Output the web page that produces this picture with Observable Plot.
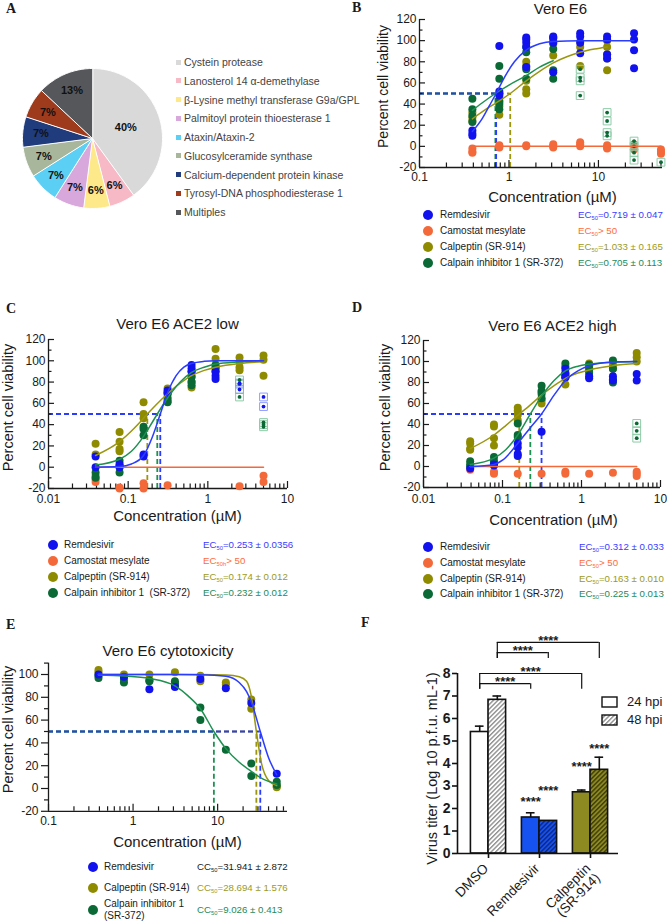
<!DOCTYPE html>
<html><head><meta charset="utf-8">
<script src="https://cdn.jsdelivr.net/npm/d3@7"></script>
<script src="https://cdn.jsdelivr.net/npm/@observablehq/plot@0.6"></script>
<style>
body{margin:0;background:#fff;}
#fig{position:relative;width:667px;height:922px;overflow:hidden;font-family:"Liberation Sans",Arial,Helvetica,sans-serif;color:#1a1a1a;background:#fff;}
.abs{position:absolute;white-space:nowrap;}
.letter{font-family:"Liberation Serif","Times New Roman",serif;font-weight:bold;}
.dot{position:absolute;width:10px;height:10px;border-radius:50%;transform:translate(-50%,-50%);}
sub{font-size:0.6em;vertical-align:-0.25em;line-height:0;}
</style></head><body><div id="fig"></div>
<script>
// ================= DATA =================
// Panel A
const pieCategories = ["Cystein protease","Lanosterol 14 \u03b1-demethylase","\u03b2-Lysine methyl transferase G9a/GPL","Palmitoyl protein thioesterase 1","Ataxin/Ataxin-2","Glucosylceramide synthase","Calcium-dependent protein kinase","Tyrosyl-DNA phosphodiesterase 1","Multiples"];
const pieShares = [40, 6, 6, 7, 7, 7, 7, 7, 13];

// Panel B: Vero E6
const concB = [0.39, 0.78, 1.56, 3.125, 6.25, 12.5, 25, 50];
const remB = [[15,12,10],[95,52,48],[103,101,98,94,75],[104,102,98,70],[107,104,98,88],[104,101,87,83],[107,101,91,74],[]];
const camB = [[-2,-5,-6],[1,0,-1],[1,0],[2,0,-1],[4,2,0],[1,-1,-2],[2,0,-3],[-3,-5,-7]];
const calpB = [[32,27,24],[42,38,30],[80,76,62,54,50],[99,97,86],[99,94,76],[100,94,87,83,72],[],[]];
const calpiB = [[45,35,29,23],[76,64,43,40,35],[94,89,73,64],[103,92,72,64],[],[],[],[]];
const calpiBx = [[],[],[],[],[73,65,62,48],[32,24,13,10],[5,0,-6,-13],[-15]];
const fitBrem = [[0.39,14],[0.5,26],[0.6,38],[0.719,50],[0.9,66],[1.15,80],[1.56,91],[2.2,97],[3.125,99.3],[6.25,100],[25,100]];
const fitBcam = [[0.39,0],[50,0]];
const fitBcalp = [[0.39,26],[0.6,37],[0.78,43],[1.033,50],[1.56,62],[2.2,71],[3.125,79],[4.5,85],[6.25,89],[9,92],[12.5,94]];
const fitBcalpi = [[0.39,34],[0.5,41],[0.705,50],[1,58],[1.56,67],[2.2,75],[3.125,81]];
const ecB = {rem: 0.719, calp: 1.033, calpi: 0.705};

// Panel C: Vero E6 ACE2 low
const concC = [0.039, 0.078, 0.156, 0.3125, 0.625, 1.25, 2.5, 5];
const remC = [[10,0],[3,1,0],[12,10],[72,70],[96,93,90],[90,86,83],[],[]];
const remCx = [[],[],[],[],[],[],[79,73],[66,57]];
const camC = [[-8,-11,-14],[-19,-20],[-15,-20],[-17],[],[],[-18],[-8,-14]];
const calpC = [[22,12],[33,24,17,15],[61,50,46],[74,70,66,62],[85,80,75],[111,102,94],[103,99,94,91],[105,101,86]];
const calpiC = [[-5,-10],[6,1,-5],[38,36,30],[69,64,61],[90,85,80,77],[96,93,90],[],[]];
const calpiCx = [[],[],[],[],[],[],[82,78,66],[42,40,38]];
const fitCrem = [[0.039,0],[0.078,0.6],[0.11,3],[0.156,11],[0.2,28],[0.253,50],[0.3125,70],[0.4,86],[0.5,94],[0.625,97.5],[0.9,99.5],[1.25,100],[5,100]];
const fitCcam = [[0.039,0],[5,0]];
const fitCcalp = [[0.039,11],[0.078,24],[0.11,34],[0.156,46],[0.174,50],[0.22,58],[0.3125,69],[0.45,79],[0.625,86],[0.9,91],[1.25,94],[2.5,97.5],[5,99]];
const fitCcalpi = [[0.039,2],[0.078,7.5],[0.11,15],[0.156,29],[0.2,42],[0.232,50],[0.3125,65],[0.45,80],[0.625,89],[0.9,94],[1.25,97],[2.5,99],[5,100]];
const ecC = {rem: 0.253, calp: 0.174, calpi: 0.232};

// Panel D: Vero E6 ACE2 high
const concD = [0.039, 0.078, 0.156, 0.3125, 0.625, 1.25, 2.5, 5];
const remD = [[-2],[1,2],[22,18,12,10],[33],[93,88,85],[86,84],[86,82],[88,82]];
const camD = [[-3],[-5,-7],[-7],[-7],[-5,-7],[-7],[-6],[-5,-7,-9]];
const calpD = [[24,22,17,16],[40,38,27,20],[56,53,49,44],[71,63,60],[90,85,78],[98,95,91],[99,96,93],[108,104,100]];
const calpiD = [[5,2,0],[9,5,3],[41,30,28],[77,72,69,65],[98,95,88,85],[97,93,89],[101,93,83,80],[]];
const calpiDx = [[],[],[],[],[],[],[],[41,34,27]];
const fitDrem = [[0.039,0],[0.078,2],[0.1,6],[0.156,22],[0.22,36],[0.312,50],[0.45,68],[0.625,82],[0.9,91],[1.25,96],[2.5,99.5],[5,100]];
const fitDcam = [[0.039,0],[5,0]];
const fitDcalp = [[0.039,17],[0.078,30],[0.11,39],[0.163,50],[0.22,58],[0.3125,68],[0.45,77],[0.625,84],[0.9,89],[1.25,92],[2.5,96],[5,98]];
const fitDcalpi = [[0.039,2],[0.078,8],[0.11,16],[0.156,30],[0.225,50],[0.3125,67],[0.45,82],[0.625,91],[0.9,95.5],[1.25,97.5],[2.5,99.3],[5,100]];
const ecD = {rem: 0.312, calp: 0.163, calpi: 0.225};

// Panel E: Vero E6 cytotoxicity
const concE = [0.39, 0.78, 1.56, 3.125, 6.25, 12.5, 25, 50];
const remE = [[100],[98],[87],[89],[96],[88],[75],[13]];
const calpE = [[104,102],[100],[100],[102],[99,94],[93,91],[78,70],[2,1]];
const calpiE = [[99,97],[96,93],[95,94],[94,92,90],[71,60],[34],[22,11],[6,3]];
const fitErem = [[0.39,100],[3.125,100],[6.25,99.8],[12.5,98.5],[18,93],[22,85],[25,76],[31.941,50],[40,27],[50,12]];
const fitEcalp = [[0.39,100],[6.25,100],[12.5,99.5],[18,98],[22,94],[25,81],[28.694,50],[33,22],[40,7],[50,2.5]];
const fitEcalpi = [[0.39,99.5],[0.78,98.7],[1.56,96.5],[3.125,90],[4.5,81],[6.25,70],[9.026,50],[12.5,35],[18,23],[25,15],[35,8],[50,4]];
const ecE = {rem: 31.941, calp: 28.694, calpi: 9.026};

const halfLevel = 50;
const yTicksViab = [-20, 0, 20, 40, 60, 80, 100, 120];
const yMinorViab = [-10, 10, 30, 50, 70, 90, 110];
const yTicksTox = [-20, 0, 20, 40, 60, 80, 100];
const yMinorTox = [-10, 10, 30, 50, 70, 90, 110];

// Panel F: virus titer
const groupsF = ["DMSO", "Remdesivir", "Calpeptin\n(SR-914)"];
const hpiF = ["24 hpi", "48 hpi"];
const titer24 = [5.4, 1.6, 2.72];
const titer48 = [6.83, 1.45, 3.72];
const err24 = [0.26, 0.21, 0.1];
const err48 = [0.17, 0, 0.56];
const starLevel24 = [null, 2.44, 4.0];
const starLevel48 = [null, 2.93, 4.8];
const bracketsF = [
  {g1: 0, g2: 1, s: 0, top: 7.55, leg: 7.3},
  {g1: 0, g2: 2, s: 0, top: 8.0, leg: 7.3},
  {g1: 0, g2: 1, s: 1, top: 8.93, leg: 8.67},
  {g1: 0, g2: 2, s: 1, top: 9.38, leg: 8.67}
];
const yTicksF = [0, 1, 2, 3, 4, 5, 6, 7, 8];

// ================= STYLES =================
const FONT = '"Liberation Sans", Arial, Helvetica, sans-serif';
const AX = "#1a1a1a";
const pieColors = ["#d9d9d9","#f7b9c5","#fde88a","#d8a8dc","#5ccff5","#a8b79c","#203c7c","#9e3b1d","#55575b"];
const dotColors = {rem: "#1212ee", cam: "#f4693a", calp: "#8f8b00", calpi: "#0a6934"};
const lineColors = {rem: "#2a3cff", cam: "#f4693a", calp: "#9a9610", calpi: "#1e9150"};
const boxColors = {rem: "#8f9dff", calpi: "#8fcba8"};
const ecColors = {rem: "#3b3bff", cam: "#ff6b3d", calp: "#9c9a22", calpi: "#238a5c"};
const plotStyle = {fontFamily: FONT, fontSize: "12px", color: AX, background: "transparent", overflow: "visible"};

const fig = document.getElementById("fig");
function place(el, left, top) { el.style.position = "absolute"; el.style.left = left + "px"; el.style.top = top + "px"; fig.appendChild(el); return el; }
function addText(x, y, html, o = {}) {
  const d = document.createElement("div");
  d.className = "abs" + (o.cls ? " " + o.cls : "");
  d.innerHTML = html;
  d.style.left = x + "px"; d.style.top = y + "px";
  d.style.fontSize = (o.size || 10) + "px";
  d.style.lineHeight = o.lh || "1.2";
  if (o.color) d.style.color = o.color;
  d.style.transform = "translateY(-50%)";
  fig.appendChild(d); return d;
}
function addDot(x, y, color) { const d = document.createElement("div"); d.className = "dot"; d.style.left = x + "px"; d.style.top = y + "px"; d.style.background = color; fig.appendChild(d); }

const reps = (conc, vals, drug) => conc.flatMap((x, i) => vals[i].map(y => ({drug, x, y})));
const fit = (arr, drug) => arr.map(([x, y]) => ({drug, x, y}));
function minorLog(lo, hi) {
  const out = [];
  for (let e = Math.floor(Math.log10(lo)); e <= Math.ceil(Math.log10(hi)); e++)
    for (let k = 2; k <= 9; k++) { const v = +(k * Math.pow(10, e)).toPrecision(3); if (v > lo * 1.0001 && v < hi * 0.9999) out.push(v); }
  return out;
}
const fmt = d3.format("~g");

// ================= PANEL A =================
const pieArcs = d3.pie().sort(null).value(d => d)(pieShares);
const piePath = pieArcs.flatMap((a, k) => {
  const n = Math.ceil((a.endAngle - a.startAngle) / 0.02);
  const pts = [{k, x: 0, y: 0}];
  for (let j = 0; j <= n; j++) { const t = a.startAngle + (a.endAngle - a.startAngle) * j / n; pts.push({k, x: Math.sin(t), y: Math.cos(t)}); }
  return pts;
});
const midA = a => (a.startAngle + a.endAngle) / 2;
const labR = a => (a.data >= 30 ? 0.5 : 0.74);
place(Plot.plot({
  width: 180, height: 156, margin: 0,
  x: {domain: [-90 / 70, 90 / 70], axis: null}, y: {domain: [-78 / 70, 78 / 70], axis: null},
  color: {type: "identity"}, style: plotStyle,
  marks: [
    Plot.line(piePath, {x: "x", y: "y", z: "k", fill: d => pieColors[d.k], stroke: "#fff", strokeWidth: 1, curve: "linear-closed"}),
    Plot.text(pieArcs, {x: a => labR(a) * Math.sin(midA(a)), y: a => labR(a) * Math.cos(midA(a)), text: a => a.data + "%", fontWeight: "bold", fontSize: 11, fill: "#111"})
  ]
}), 2, 60);
pieCategories.forEach((c, i) => {
  const y = 62 + i * 18.75;
  const sq = document.createElement("div");
  sq.style.cssText = `position:absolute;left:176px;top:${y - 2.5}px;width:5px;height:5px;background:${pieColors[i]}`;
  fig.appendChild(sq);
  addText(184, y, c, {size: 10.5, color: "#444"});
});

// ================= DOSE-RESPONSE PANELS =================
function dosePanel(c) {
  const [mt, mr, mb, ml] = c.margin;
  const fw = c.width - ml - mr, fh = c.height - mt - mb;
  const ecs = ["calp", "calpi", "rem"].filter(k => c.ec[k] != null).map(k => ({drug: k, ec: c.ec[k]}));
  const dash = {strokeWidth: 1.8, strokeDasharray: "5,3", stroke: d => lineColors[d.drug]};
  const yt = c.yOut
    ? [Plot.tickY(c.yMajor, {y: d => d, insetLeft: -7, insetRight: fw, stroke: AX, strokeWidth: 1.2}),
       Plot.tickY(c.yMinor.filter(v => v <= c.yDomain[1]), {y: d => d, insetLeft: -4, insetRight: fw, stroke: AX, strokeWidth: 1.2})]
    : [Plot.tickY(c.yMajor, {y: d => d, insetRight: fw - 6, stroke: AX, strokeWidth: 1.2}),
       Plot.tickY(c.yMinor.filter(v => v <= c.yDomain[1]), {y: d => d, insetRight: fw - 3.5, stroke: AX, strokeWidth: 1.2})];
  const svg = Plot.plot({
    width: c.width, height: c.height, marginTop: mt, marginRight: mr, marginBottom: mb, marginLeft: ml,
    x: {type: "log", domain: c.xDomain, axis: null},
    y: {domain: c.yDomain, axis: null},
    color: {type: "identity"}, style: plotStyle,
    marks: [
      Plot.ruleY(ecs, {y: halfLevel, x1: c.xDomain[0], x2: "ec", ...dash}),
      Plot.ruleX(ecs, {x: "ec", y1: c.yDomain[0], y2: halfLevel, ...dash}),
      Plot.ruleY([c.yDomain[0]], {stroke: AX, strokeWidth: 1.3}),
      Plot.ruleX([c.xDomain[0]], {stroke: AX, strokeWidth: 1.3}),
      Plot.tickX(c.xMajor, {x: d => d, insetTop: fh - 7, stroke: AX, strokeWidth: 1.2}),
      Plot.tickX(minorLog(c.xDomain[0], c.xDomain[1]), {x: d => d, insetTop: fh - 4.5, stroke: AX, strokeWidth: 1.2}),
      ...yt,
      Plot.text(c.xMajor, {x: d => d, frameAnchor: "bottom", lineAnchor: "top", dy: c.xLabelDy || 5, text: d => fmt(d), fontSize: 12}),
      Plot.text(c.yMajor, {y: d => d, frameAnchor: "left", lineAnchor: "middle", dx: c.yLabelDx, textAnchor: "end", text: d => String(d), fontSize: 12}),
      Plot.dot(c.points, {x: "x", y: "y", r: 4, fill: d => dotColors[d.drug]}),
      Plot.dot(c.excluded, {x: "x", y: "y", symbol: "square", r: 4.4, fill: "none", stroke: d => boxColors[d.drug], strokeWidth: 1}),
      Plot.dot(c.excluded, {x: "x", y: "y", r: 1.9, fill: d => dotColors[d.drug]}),
      Plot.line(c.fits, {x: "x", y: "y", z: "drug", stroke: d => lineColors[d.drug], strokeWidth: 1.5, curve: "monotone-x"}),
      Plot.text([c.title], {frameAnchor: "top", lineAnchor: "middle", textAnchor: "middle", dx: c.titleOff[0], dy: c.titleOff[1], text: d => d, fontSize: 15}),
      Plot.text(["Concentration (\u00b5M)"], {frameAnchor: "bottom", lineAnchor: "middle", textAnchor: "middle", dx: c.xTitleOff[0], dy: c.xTitleOff[1], text: d => d, fontSize: 15}),
      Plot.text(["Percent cell viability"], {frameAnchor: "left", lineAnchor: "middle", textAnchor: "middle", rotate: -90, dx: c.yTitleOff[0], dy: c.yTitleOff[1], text: d => d, fontSize: c.yTitleSize || 14.5})
    ]
  });
  place(svg, c.left, c.top);
}

dosePanel({
  left: 340, top: 0, width: 327, height: 205, margin: [19, 5, 38, 79],
  xDomain: [0.1, 52], yDomain: [-20, 120], xMajor: [0.1, 1, 10], yMajor: yTicksViab, yMinor: yMinorViab, yOut: false, yLabelDx: -3, xLabelDy: 5,
  points: [...reps(concB, camB, "cam"), ...reps(concB, calpB, "calp"), ...reps(concB, calpiB, "calpi"), ...reps(concB, remB, "rem")],
  excluded: reps(concB, calpiBx, "calpi"),
  fits: [...fit(fitBcam, "cam"), ...fit(fitBcalp, "calp"), ...fit(fitBcalpi, "calpi"), ...fit(fitBrem, "rem")],
  ec: ecB, title: "Vero E6", titleOff: [19.5, -10.5], xTitleOff: [11.5, 30], yTitleOff: [-36, -7], yTitleSize: 14
});
dosePanel({
  left: 0, top: 300, width: 340, height: 225, margin: [39, 53, 37, 48],
  xDomain: [0.01, 10], yDomain: [-20, 120], xMajor: [0.01, 0.1, 1, 10], yMajor: yTicksViab, yMinor: yMinorViab, yOut: false, yLabelDx: -3, xLabelDy: 6,
  points: [...reps(concC, camC, "cam"), ...reps(concC, calpC, "calp"), ...reps(concC, calpiC, "calpi"), ...reps(concC, remC, "rem")],
  excluded: [...reps(concC, calpiCx, "calpi"), ...reps(concC, remCx, "rem")],
  fits: [...fit(fitCcam, "cam"), ...fit(fitCcalp, "calp"), ...fit(fitCcalpi, "calpi"), ...fit(fitCrem, "rem")],
  ec: ecC, title: "Vero E6 ACE2 low", titleOff: [9.5, -15], xTitleOff: [9.5, 28], yTitleOff: [-40, -6.5]
});
dosePanel({
  left: 330, top: 300, width: 337, height: 225, margin: [40, 7, 38, 93],
  xDomain: [0.01, 10], yDomain: [-20, 120], xMajor: [0.01, 0.1, 1, 10], yMajor: yTicksViab, yMinor: yMinorViab, yOut: false, yLabelDx: -3, xLabelDy: 6.5,
  points: [...reps(concD, camD, "cam"), ...reps(concD, calpD, "calp"), ...reps(concD, calpiD, "calpi"), ...reps(concD, remD, "rem")],
  excluded: reps(concD, calpiDx, "calpi"),
  fits: [...fit(fitDcam, "cam"), ...fit(fitDcalp, "calp"), ...fit(fitDcalpi, "calpi"), ...fit(fitDrem, "rem")],
  ec: ecD, title: "Vero E6 ACE2 high", titleOff: [10.5, -14], xTitleOff: [11.5, 33], yTitleOff: [-38, -6.5]
});
dosePanel({
  left: 0, top: 630, width: 340, height: 225, margin: [32.6, 53, 44.2, 48],
  xDomain: [0.1, 67], yDomain: [-20, 110], xMajor: [0.1, 1, 10], yMajor: yTicksTox, yMinor: yMinorTox, yOut: true, yLabelDx: -10, xLabelDy: 5,
  points: [...reps(concE, calpE, "calp"), ...reps(concE, calpiE, "calpi"), ...reps(concE, remE, "rem")],
  excluded: [],
  fits: [...fit(fitEcalp, "calp"), ...fit(fitEcalpi, "calpi"), ...fit(fitErem, "rem")],
  ec: ecE, title: "Vero E6 cytotoxicity", titleOff: [0, -11.6], xTitleOff: [9.5, 31], yTitleOff: [-40, -7.7]
});

// ---- dose-response legends ----
const legNames = {rem: "Remdesivir", cam: "Camostat mesylate", calp: "Calpeptin (SR-914)", calpi: "Calpain inhibitor 1 (SR-372)"};
function legend(keys, ys, dotX, textX, ecX, ecHtml, names, colorsFor) {
  keys.forEach((k, i) => {
    addDot(dotX, ys[i], dotColors[k]);
    addText(textX, ys[i], names[k] || legNames[k], {size: 10});
    addText(ecX, ys[i], ecHtml[i], {size: 9.7, color: colorsFor[i]});
  });
}
const K4 = ["rem", "cam", "calp", "calpi"];
legend(K4, [215, 231, 247, 263], 428, 440, 578,
  ["EC<sub>50</sub>=0.719 \u00b1 0.047", "EC<sub>50</sub>&gt; 50", "EC<sub>50</sub>=1.033 \u00b1 0.165", "EC<sub>50</sub>=0.705 \u00b1 0.113"], {}, K4.map(k => ecColors[k]));
legend(K4, [545, 561, 577, 593], 53, 64, 203,
  ["EC<sub>50</sub>=0.253 \u00b1 0.0356", "EC<sub>50h</sub>&gt; 50", "EC<sub>50</sub>=0.174 \u00b1 0.012", "EC<sub>50</sub>=0.232 \u00b1 0.012"], {calpi: "Calpain inhibitor 1&nbsp; (SR-372)"}, K4.map(k => ecColors[k]));
legend(K4, [547, 563, 579, 594], 428, 440, 579,
  ["EC<sub>50</sub>=0.312 \u00b1 0.033", "EC<sub>50</sub>&gt; 50", "EC<sub>50</sub>=0.163 \u00b1 0.010", "EC<sub>50</sub>=0.225 \u00b1 0.013"], {}, K4.map(k => ecColors[k]));
legend(["rem", "calp", "calpi"], [867, 888, 910], 93, 104, 197,
  ["CC<sub>50</sub>=31.941 \u00b1 2.872", "CC<sub>50</sub>=28.694 \u00b1 1.576", "CC<sub>50</sub>=9.026 \u00b1 0.413"], {calpi: "Calpain inhibitor 1<br>(SR-372)"}, [AX, ecColors.calp, ecColors.calpi]);

// ================= PANEL F =================
const barW = 0.345, capHalf = 0.085;
const xDomainF = [-0.608, 2.549];
const barFill = {"0-0": "#ffffff", "0-1": "url(#hatchGray)", "1-0": "#1652f0", "1-1": "url(#hatchBlue)", "2-0": "#8d8a22", "2-1": "url(#hatchOlive)"};
const cx = (gi, si) => gi + (si - 0.5) * barW;
const barsF = groupsF.flatMap((g, gi) => [titer24, titer48].map((arr, si) => ({
  gi, si, key: gi + "-" + si, v: arr[gi], err: [err24, err48][si][gi], star: [starLevel24, starLevel48][si][gi], c: cx(gi, si)
})));
const legsF = bracketsF.flatMap(b => [{x: cx(b.g1, b.s), y1: b.top, y2: b.leg}, {x: cx(b.g2, b.s), y1: b.top, y2: b.leg}]);
const fwF = 307 - 97 - 49, fhF = 302 - 8 - 69;
const svgF = Plot.plot({
  width: 307, height: 302, marginTop: 8, marginRight: 49, marginBottom: 69, marginLeft: 97,
  x: {domain: xDomainF, axis: null}, y: {domain: [0, 10], axis: null},
  color: {type: "identity"}, style: plotStyle,
  marks: [
    Plot.rect(barsF, {x1: d => d.c - barW / 2, x2: d => d.c + barW / 2, y1: 0, y2: "v", fill: d => barFill[d.key], stroke: "#111", strokeWidth: 1.6}),
    Plot.ruleX(barsF.filter(d => d.err > 0), {x: "c", y1: "v", y2: d => d.v + d.err, stroke: "#111", strokeWidth: 1.6}),
    Plot.ruleY(barsF.filter(d => d.err > 0), {y: d => d.v + d.err, x1: d => d.c - capHalf, x2: d => d.c + capHalf, stroke: "#111", strokeWidth: 1.6}),
    Plot.text(barsF.filter(d => d.star != null), {x: "c", y: "star", dy: 3, text: () => "****", fontSize: 13, fontWeight: "bold"}),
    Plot.ruleY(bracketsF, {y: "top", x1: b => cx(b.g1, b.s), x2: b => cx(b.g2, b.s), stroke: "#111", strokeWidth: 1.2}),
    Plot.ruleX(legsF, {x: "x", y1: "y1", y2: "y2", stroke: "#111", strokeWidth: 1.2}),
    Plot.text(bracketsF, {x: b => (cx(b.g1, b.s) + cx(b.g2, b.s)) / 2, y: "top", dy: -2, text: () => "****", fontSize: 13, fontWeight: "bold"}),
    Plot.ruleY([0], {stroke: "#111", strokeWidth: 1.6}),
    Plot.ruleX([xDomainF[0]], {y1: yTicksF[0], y2: yTicksF[yTicksF.length - 1], stroke: "#111", strokeWidth: 1.6}),
    Plot.tickY(yTicksF, {y: d => d, insetLeft: -5, insetRight: fwF, stroke: "#111", strokeWidth: 1.6}),
    Plot.text(yTicksF, {y: d => d, frameAnchor: "left", lineAnchor: "middle", dx: -7, textAnchor: "end", text: d => String(d), fontSize: 14, fontWeight: "bold"}),
    Plot.tickX(groupsF.map((g, i) => i), {x: d => d, insetTop: fhF, insetBottom: -5, stroke: "#111", strokeWidth: 1.6}),
    Plot.text(groupsF, {x: (d, i) => i, frameAnchor: "bottom", dx: -6, dy: 9, rotate: -45, textAnchor: "end", lineAnchor: "top", text: d => d, fontSize: 13.5}),
    Plot.text(["Virus titer (Log 10 p.f.u. mL-1)"], {frameAnchor: "left", lineAnchor: "middle", textAnchor: "middle", rotate: -90, dx: -25, dy: 27.5, text: d => d, fontSize: 14.5})
  ]
});
const defs = d3.select(svgF).insert("defs", ":first-child");
function hatch(id, bg, fg) {
  const p = defs.append("pattern").attr("id", id).attr("patternUnits", "userSpaceOnUse").attr("width", 3.2).attr("height", 3.2).attr("patternTransform", "rotate(45)");
  p.append("rect").attr("width", 3.2).attr("height", 3.2).attr("fill", bg);
  p.append("rect").attr("width", 1.4).attr("height", 3.2).attr("fill", fg);
}
hatch("hatchGray", "#ffffff", "#8f8f8f");
hatch("hatchBlue", "#1652f0", "#0c2680");
hatch("hatchOlive", "#8d8a22", "#3f3d08");
place(svgF, 360, 620);

// legend F
[["#ffffff", 702], ["url(#hatchGray)", 720]].forEach(([f, y], i) => {
  const s = document.createElementNS("http://www.w3.org/2000/svg", "svg");
  s.setAttribute("width", 17); s.setAttribute("height", 12);
  s.innerHTML = `<rect x="1" y="1" width="15" height="10" fill="${f}" stroke="#111" stroke-width="1.4"/>`;
  place(s, 601, y - 6);
  addText(627, y, hpiF[i], {size: 13});
});

// ================= PANEL LETTERS =================
[["A", 6, 9], ["B", 352, 8], ["C", 6, 309], ["D", 352, 308], ["E", 6, 625], ["F", 361, 623]].forEach(([t, x, y]) =>
  addText(x, y, t, {cls: "letter", size: 14}));
</script></body></html>
